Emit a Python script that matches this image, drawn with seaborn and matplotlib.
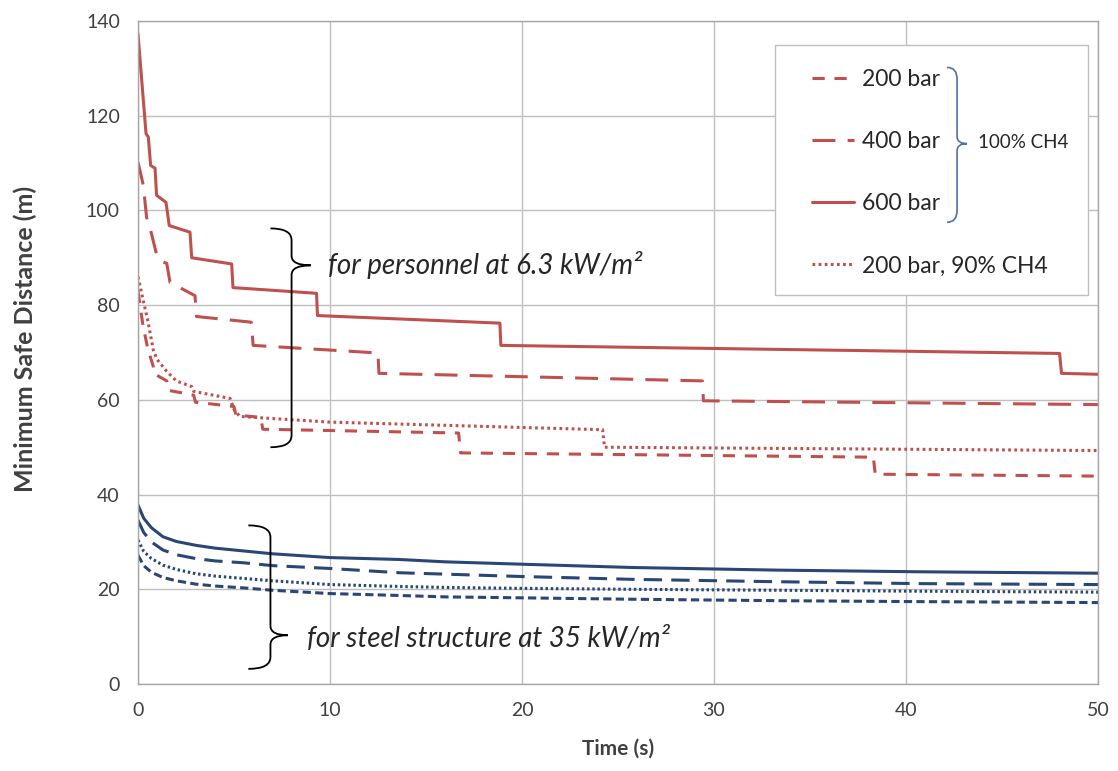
import matplotlib
matplotlib.use("Agg")
import matplotlib.pyplot as plt
import pandas as pd
import seaborn as sns
from matplotlib.path import Path
from matplotlib.patches import PathPatch, Rectangle
from matplotlib.lines import Line2D

# ---------------- data ----------------
# personnel criterion (6.3 kW/m2) - red step curves
t_p600 = [0, 0.42, 0.54, 0.66, 0.89, 0.97, 1.46, 1.63, 2.71, 2.8, 4.88, 4.95, 9.3, 9.35, 18.85, 18.9, 48.0, 48.1, 50]
d_p600 = [137.3, 116.2, 115.5, 109.5, 108.9, 103.2, 101.7, 96.8, 95.4, 90.0, 88.7, 83.7, 82.5, 77.8, 76.2, 71.5, 69.8, 65.6, 65.4]

t_p400 = [0, 0.28, 0.45, 0.66, 0.94, 1.1, 1.5, 1.67, 2.97, 3.05, 5.9, 6.0, 12.5, 12.55, 29.4, 29.45, 50]
d_p400 = [110.2, 105.3, 98.5, 95.8, 91.2, 89.5, 88.8, 84.8, 82.0, 77.6, 76.4, 71.5, 69.9, 65.6, 64.0, 59.8, 59.0]

t_p200 = [0, 0.25, 0.5, 0.8, 0.85, 1.5, 1.6, 2.9, 3.0, 5.0, 5.1, 6.4, 6.5, 16.7, 16.8, 38.3, 38.4, 50]
d_p200 = [83.0, 76.0, 71.0, 67.0, 65.5, 64.0, 62.0, 61.0, 59.5, 58.6, 56.8, 56.3, 53.8, 53.0, 48.8, 47.9, 44.3, 43.9]

t_p90 = [0, 0.3, 0.5, 0.8, 1.0, 1.5, 2.0, 2.8, 2.9, 4.8, 5.0, 5.3, 10, 24.2, 24.3, 50]
d_p90 = [86.0, 80.5, 77.0, 70.5, 68.5, 66.0, 64.0, 62.8, 61.8, 60.3, 58.0, 56.5, 55.3, 53.7, 50.0, 49.3]

# steel structure criterion (35 kW/m2) - blue smooth curves
t_steel = [0, 0.3, 0.7, 1.3, 2, 3, 4, 5.5, 7, 10, 13.6, 16, 20, 25.8, 33.3, 40.7, 50]
d_s600 = [37.8, 35.0, 33.0, 31.1, 30.1, 29.3, 28.7, 28.1, 27.5, 26.7, 26.3, 25.8, 25.3, 24.6, 24.05, 23.7, 23.4]
d_s400 = [34.6, 32.0, 30.0, 28.3, 27.3, 26.5, 26.0, 25.6, 25.0, 24.4, 23.5, 23.2, 22.7, 22.1, 21.6, 21.2, 21.0]
d_s90 = [30.4, 28.0, 26.5, 25.1, 24.2, 23.3, 22.8, 22.3, 21.8, 21.0, 20.6, 20.4, 20.2, 20.0, 19.8, 19.6, 19.4]
d_s200 = [27.2, 25.0, 23.6, 22.5, 21.8, 21.1, 20.7, 20.3, 19.8, 19.1, 18.7, 18.4, 18.2, 17.9, 17.6, 17.4, 17.2]

x_ticks = [0, 10, 20, 30, 40, 50]
y_ticks = [0, 20, 40, 60, 80, 100, 120, 140]
legend_labels = ["200 bar", "400 bar", "600 bar", "200 bar, 90% CH4"]
group_label = "100% CH4"
note_personnel = "for personnel at 6.3 kW/m²"
note_steel = "for steel structure at 35 kW/m²"

RED = "#C0504D"
BLUE = "#2A4677"

frames = []
def add(t, d, name):
    frames.append(pd.DataFrame({"time": t, "distance": d, "series": name}))

add(t_p200, d_p200, "P200")
add(t_p400, d_p400, "P400")
add(t_p600, d_p600, "P600")
add(t_p90, d_p90, "P90")
add(t_steel, d_s200, "S200")
add(t_steel, d_s400, "S400")
add(t_steel, d_s600, "S600")
add(t_steel, d_s90, "S90")
df = pd.concat(frames, ignore_index=True)

palette = {"P200": RED, "P400": RED, "P600": RED, "P90": RED,
           "S200": BLUE, "S400": BLUE, "S600": BLUE, "S90": BLUE}
dash_map = {"P200": (4, 3.2), "P400": (7.5, 4), "P600": "", "P90": (0.9, 1.1),
            "S200": (2.7, 1.4), "S400": (6, 3), "S600": "", "S90": (0.8, 0.9)}

sns.set_theme(style="whitegrid")
plt.rcParams["font.family"] = ["Lato", "DejaVu Sans"]

fig = plt.figure(figsize=(11.18, 7.71), dpi=100)
ax = fig.add_axes([0.1234, 0.1128, 0.8587, 0.8600])

sns.lineplot(data=df, x="time", y="distance", hue="series", style="series",
             palette=palette, dashes=dash_map, estimator=None, sort=False,
             legend=False, linewidth=2.2, ax=ax)

ax.set_xlim(0, 50)
ax.set_ylim(0, 140)
ax.set_xticks(x_ticks)
ax.set_yticks(y_ticks)
ax.grid(True, color="#BFBFBF", linewidth=1)
for s in ax.spines.values():
    s.set_color("#A6A6A6")
    s.set_linewidth(1)
ax.tick_params(axis="both", length=5, width=1, color="#A6A6A6", pad=8,
               labelsize=14, labelcolor="#404040")
ax.set_xlabel("Time (s)", fontsize=15, fontweight="bold", color="#404040")
ax.set_ylabel("Minimum Safe Distance (m)", fontsize=18, fontweight="bold", color="#404040")
ax.xaxis.set_label_coords(0.5, -0.083)
ax.yaxis.set_label_coords(-0.105, 0.52)

# ---- braces ----
def brace(x_end, x_stem, x_tip, y_top, y_tip, y_bot, r1, r2, color, lw):
    verts = [(x_end, y_top), (x_stem, y_top), (x_stem, y_top - r1),
             (x_stem, y_tip + r2),
             (x_stem, y_tip), (x_tip, y_tip),
             (x_stem, y_tip), (x_stem, y_tip - r2),
             (x_stem, y_bot + r1),
             (x_stem, y_bot), (x_end, y_bot)]
    codes = [Path.MOVETO, Path.CURVE3, Path.CURVE3, Path.LINETO,
             Path.CURVE3, Path.CURVE3, Path.CURVE3, Path.CURVE3,
             Path.LINETO, Path.CURVE3, Path.CURVE3]
    ax.add_patch(PathPatch(Path(verts, codes), facecolor="none",
                           edgecolor=color, lw=lw, zorder=6))

brace(6.9, 8.0, 9.0, 96.2, 88.4, 50.0, 2.5, 2.0, "black", 1.3)
brace(5.75, 6.9, 7.8, 33.5, 10.3, 3.2, 2.5, 2.0, "black", 1.3)

ax.text(9.9, 88.4, note_personnel, style="italic", fontsize=20, va="center",
        color="#262626", zorder=6)
ax.text(8.8, 9.6, note_steel, style="italic", fontsize=20, va="center",
        color="#262626", zorder=6)

# ---- legend ----
ax.add_patch(Rectangle((0.6635, 0.5867), 0.326, 0.377, transform=ax.transAxes,
                       facecolor="white", edgecolor="#BFBFBF", lw=1, zorder=4))
handles = [Line2D([], [], color=RED, lw=2.2, dashes=dash_map["P200"]),
           Line2D([], [], color=RED, lw=2.2, dashes=dash_map["P400"]),
           Line2D([], [], color=RED, lw=2.2),
           Line2D([], [], color=RED, lw=2.2, dashes=dash_map["P90"])]
leg = ax.legend(handles, legend_labels, loc="upper left", bbox_to_anchor=(0.702, 0.928),
                frameon=False, fontsize=16.5, handlelength=1.85, handletextpad=0.35,
                labelspacing=1.8, borderpad=0, borderaxespad=0)
leg.set_zorder(7)
for txt in leg.get_texts():
    txt.set_color("#262626")

brace(42.14, 42.66, 43.18, 130.2, 114.1, 97.5, 2.5, 1.5, "#4F6FA8", 1.2)
ax.text(43.75, 114.4, group_label, fontsize=13.5, va="center", color="#262626", zorder=7)

fig.savefig("out.png", dpi=100)
